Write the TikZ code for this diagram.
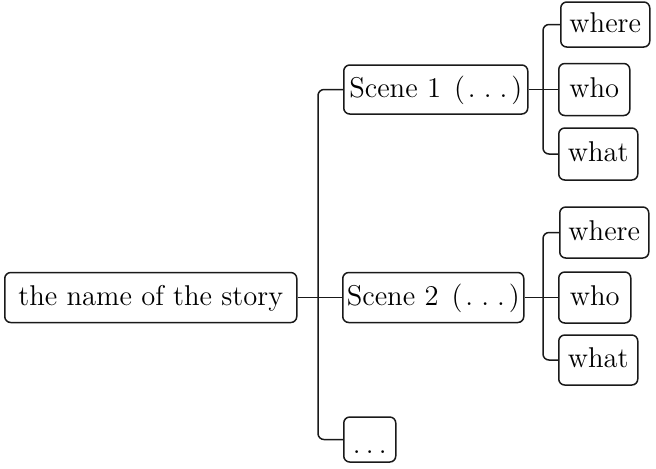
\documentclass[tikz,border=0pt]{standalone}
\usepackage{fontspec}
\newcommand{\mydots}[1]{.\hspace{#1}.\hspace{#1}.}
\begin{document}
\begin{tikzpicture}[x=0.5pt,y=-0.5pt,
  box/.style={draw=black!90,line width=0.75pt,rounded corners=3pt,anchor=west,
    inner xsep=0pt,inner ysep=0pt,text height=10pt,text depth=2.5pt,
    font=\fontsize{14.3}{16}\selectfont},
  link/.style={draw=black!90,line width=0.75pt,rounded corners=3pt}]
\useasboundingbox (0,0) rectangle (656,468);
\node[box,minimum width=146pt,minimum height=25pt] (root) at (4,297.5) {the name of the story};
\node[box,minimum width=92pt,minimum height=24.5pt] (s1) at (343,89.5) {Scene 1\hspace{6.5pt}(\hspace{1.5pt}\mydots{4pt}\hspace{2pt})};
\node[box,minimum width=90.5pt,minimum height=25pt] (s2) at (342,297.5) {Scene 2\hspace{6.5pt}(\hspace{1.5pt}\mydots{4pt}\hspace{2pt})};
\node[box,minimum width=26pt,minimum height=22.5pt,text height=14pt,text depth=0pt] (s3) at (343,439.5) {\mydots{2.6pt}};
\node[box,minimum width=44.5pt,minimum height=22.5pt] (w1) at (560,24.5) {where};
\node[box,minimum width=35.5pt,minimum height=26pt] (h1) at (558,89.5) {who};
\node[box,minimum width=39.5pt,minimum height=26pt] (a1) at (558,154) {what};
\node[box,minimum width=44.5pt,minimum height=25.5pt] (w2) at (559,232.5) {where};
\node[box,minimum width=36pt,minimum height=25.5pt] (h2) at (558,297.5) {who};
\node[box,minimum width=39.5pt,minimum height=25pt] (a2) at (558,360) {what};
\coordinate (t) at (318,297.5);
\coordinate (b1) at (543,89.5);
\coordinate (b2) at (543,297.5);
\draw[link] (root.east) -- (s2.west);
\draw[link] (s1.west) -| (t) |- (s3.west);
\draw[link] (s1.east) -- (h1.west);
\draw[link] (w1.west) -| (b1) |- (a1.west);
\draw[link] (s2.east) -- (h2.west);
\draw[link] (w2.west) -| (b2) |- (a2.west);
\end{tikzpicture}
\end{document}
